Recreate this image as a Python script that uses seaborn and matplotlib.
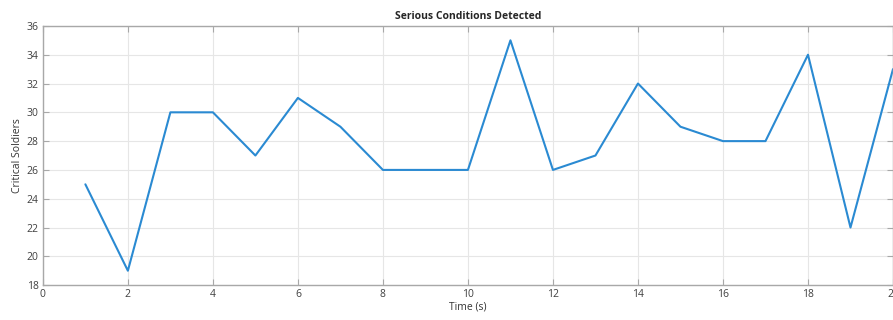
import pandas as pd
import matplotlib.pyplot as plt
import seaborn as sns

# Dados
tempo = list(range(1, 21))
criticos = [25, 19, 30, 30, 27, 31, 29, 26, 26, 26, 35, 26, 27, 32, 29, 28, 28, 34, 22, 33]
x_ticks = list(range(0, 21, 2))
y_ticks = list(range(18, 37, 2))

df = pd.DataFrame({'Time (s)': tempo, 'Critical Soldiers': criticos})

sns.set_style('whitegrid')
plt.rcParams['font.family'] = ['Open Sans', 'DejaVu Sans']

fig = plt.figure(figsize=(8.93, 3.2), dpi=100)
ax = fig.add_axes([0.048, 0.109, 0.952, 0.81])

sns.lineplot(data=df, x='Time (s)', y='Critical Soldiers', ax=ax, color='#2a8ad2', linewidth=1.5)

ax.set_xlim(0, 20)
ax.set_ylim(18, 36)
ax.set_xticks(x_ticks)
ax.set_yticks(y_ticks)
ax.grid(True, color='#e6e6e6', linewidth=0.8)
for s in ax.spines.values():
    s.set_color('#a8a8a8')
    s.set_linewidth(1.0)
ax.tick_params(direction='in', length=4, width=0.8, color='#a8a8a8', labelsize=7.5,
               labelcolor='#404040', top=True, right=True, left=True, bottom=True, pad=3)
ax.set_xlabel('Time (s)', fontsize=7.5, color='#333333', labelpad=1)
ax.set_ylabel('Critical Soldiers', fontsize=7.5, color='#333333', labelpad=3)
ax.set_title('Serious Conditions Detected', fontsize=7.5, fontweight='bold', pad=5)

fig.savefig('out.png', dpi=100)
